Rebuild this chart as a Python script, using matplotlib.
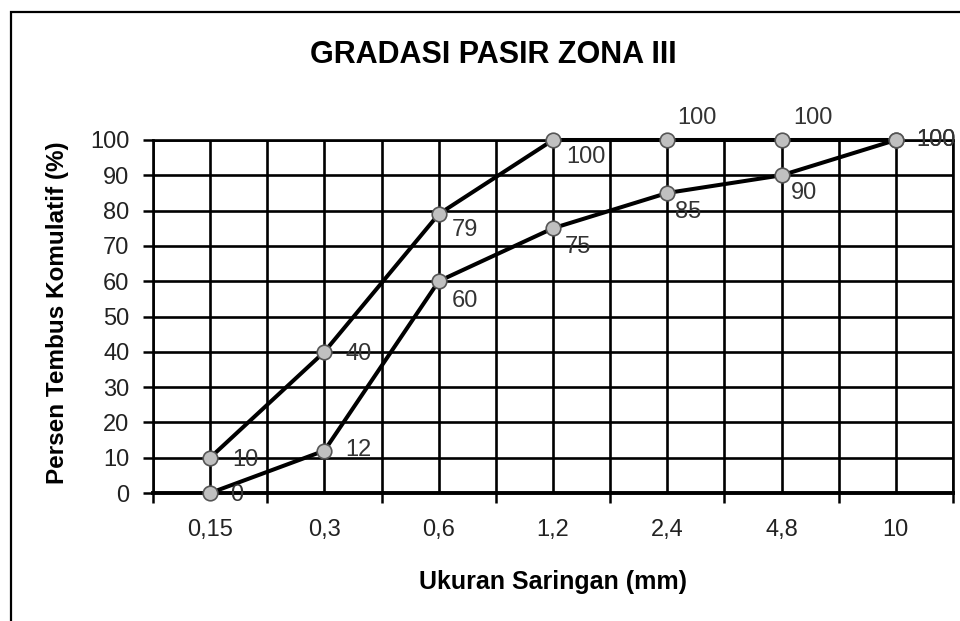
import matplotlib
matplotlib.use("Agg")
import matplotlib.pyplot as plt
from matplotlib.patches import Rectangle
import numpy as np

plt.rcParams['font.family'] = ['Liberation Sans', 'DejaVu Sans']

ukuran = ["0,15", "0,3", "0,6", "1,2", "2,4", "4,8", "10"]
batas_atas = [10, 40, 79, 100, 100, 100, 100]
batas_bawah = [0, 12, 60, 75, 85, 90, 100]

# label offsets in pixels (dx, dy)
off_atas = [(22, -2), (21, -2), (13, -16), (13, -17), (10, 22), (12, 22), (20, 0)]
off_bawah = [(20, -2), (21, 1), (13, -20), (12, -19), (8, -19), (9, -18), (20, 0)]

x = np.arange(len(ukuran))

fig = plt.figure(figsize=(9.6, 6.21), dpi=100)
ax = fig.add_axes([153/960, 1-493/621, 800/960, 353/621])

for serie in (batas_atas, batas_bawah):
    ax.plot(x, serie, color='black', lw=2.9, marker='o', ms=10.5,
            markerfacecolor='#c0c0c0', markeredgecolor='#555555', mew=1.2,
            clip_on=False, zorder=5)

for serie, offs in ((batas_atas, off_atas), (batas_bawah, off_bawah)):
    for xi, yi, (dx, dy) in zip(x, serie, offs):
        ax.annotate(str(yi), (xi, yi), xytext=(dx*0.72, dy*0.72), textcoords='offset points',
                    ha='left', va='center', fontsize=17, color='#333333',
                    annotation_clip=False, zorder=6)

ax.set_xlim(-0.5, len(ukuran) - 0.5)
ax.set_ylim(0, 100)
ax.set_xticks(x)
ax.set_xticklabels(ukuran)
ax.set_xticks(np.arange(-0.5, len(ukuran), 1.0), minor=True)
ax.set_yticks(np.arange(0, 101, 10))

ax.tick_params(axis='x', which='major', length=0, pad=19, labelsize=17, labelcolor='#222222')
ax.tick_params(axis='x', which='minor', length=7, width=1.8, direction='out')
ax.tick_params(axis='y', length=7, width=1.8, direction='out', pad=10, labelsize=17, labelcolor='#222222')

ax.grid(True, which='both', axis='x', color='black', lw=1.9)
ax.grid(True, which='major', axis='y', color='black', lw=1.9)
ax.set_axisbelow(True)
for s in ax.spines.values():
    s.set_linewidth(1.9)
ax.spines['bottom'].set_linewidth(2.8)

fig.text(493/960, 1-55/621, "GRADASI PASIR ZONA III", ha='center', va='center',
         fontsize=22, fontweight='bold')
fig.text(58/960, 1-313/621, "Persen Tembus Komulatif (%)", ha='center', va='center',
         rotation=90, fontsize=17.5, fontweight='bold')
fig.text(553/960, 1-582/621, "Ukuran Saringan (mm)", ha='center', va='center',
         fontsize=18, fontweight='bold')

fig.add_artist(Rectangle((10.5/960, -0.1), 1.2, 1.1 - 12/621, transform=fig.transFigure,
                         fill=False, lw=1.6, edgecolor='black'))

fig.savefig("out.png", dpi=100)
